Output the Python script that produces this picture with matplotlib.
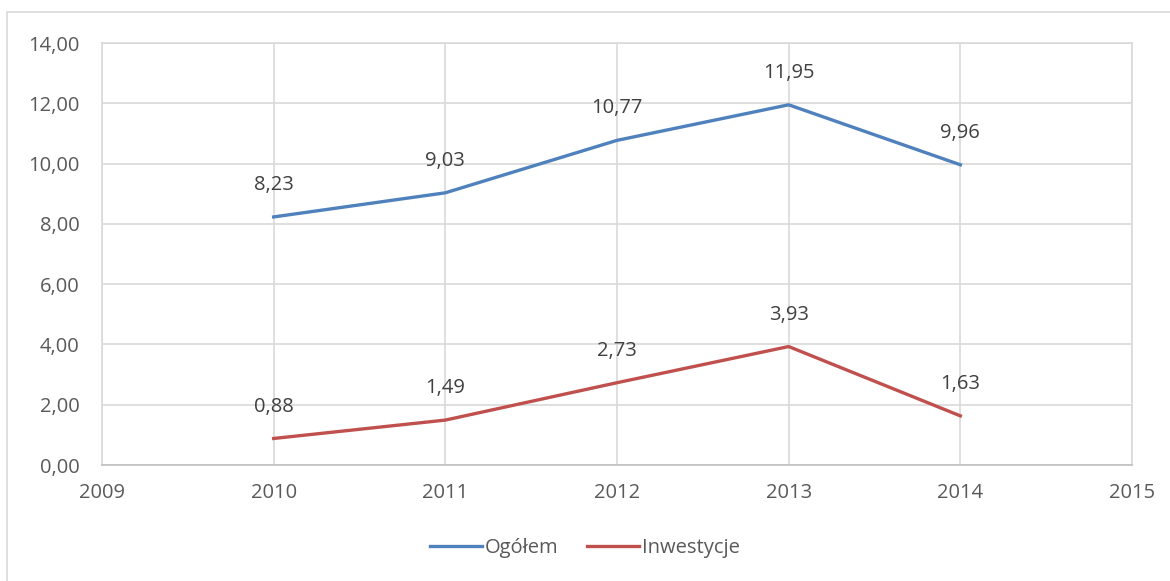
import matplotlib.pyplot as plt
from matplotlib.patches import Rectangle

years = [2010, 2011, 2012, 2013, 2014]
ogolem = [8.23, 9.03, 10.77, 11.95, 9.96]
inwestycje = [0.88, 1.49, 2.73, 3.93, 1.63]

plt.rcParams['font.family'] = ['Open Sans', 'DejaVu Sans']
text_col = '#595959'
grid_col = '#D9D9D9'

fig = plt.figure(figsize=(11.7, 5.81), dpi=100)
ax = fig.add_axes([102/1170, 1 - 465/581, (1132 - 102)/1170, (465 - 43)/581])

# chart border
fig.patches.append(Rectangle((7/1170, -0.1), 1.2, 1 - 12/581 + 0.1, transform=fig.transFigure,
                             fill=False, edgecolor=grid_col, linewidth=1.2))

ax.plot(years, ogolem, color='#4F81BD', linewidth=2.4, label='Ogółem')
ax.plot(years, inwestycje, color='#C0504D', linewidth=2.4, label='Inwestycje')

for series in (ogolem, inwestycje):
    for x, y in zip(years, series):
        ax.annotate(f"{y:.2f}".replace('.', ','), (x, y), xytext=(0, 23),
                    textcoords='offset points', ha='center', va='center',
                    fontsize=14.5, color='#404040')

ax.set_xlim(2009, 2015)
ax.set_ylim(0, 14)
ax.set_xticks(range(2009, 2016))
ax.set_yticks(range(0, 15, 2))
ax.set_yticklabels([f"{v:.2f}".replace('.', ',') for v in range(0, 15, 2)])
ax.grid(True, color=grid_col, linewidth=1.2)
ax.set_axisbelow(True)
for s in ax.spines.values():
    s.set_color(grid_col)
    s.set_linewidth(1.2)
ax.spines['bottom'].set_color('#BFBFBF')
ax.tick_params(length=0, labelsize=14.5, colors=text_col)
ax.tick_params(axis='y', pad=16)
ax.tick_params(axis='x', pad=13)

fig.legend(loc='center', bbox_to_anchor=(0.5, 1 - 548/581), ncol=2, frameon=False,
           fontsize=14.5, labelcolor=text_col, handlelength=2.6, handletextpad=0.15,
           columnspacing=1.4)

fig.savefig('out.png', dpi=100)
